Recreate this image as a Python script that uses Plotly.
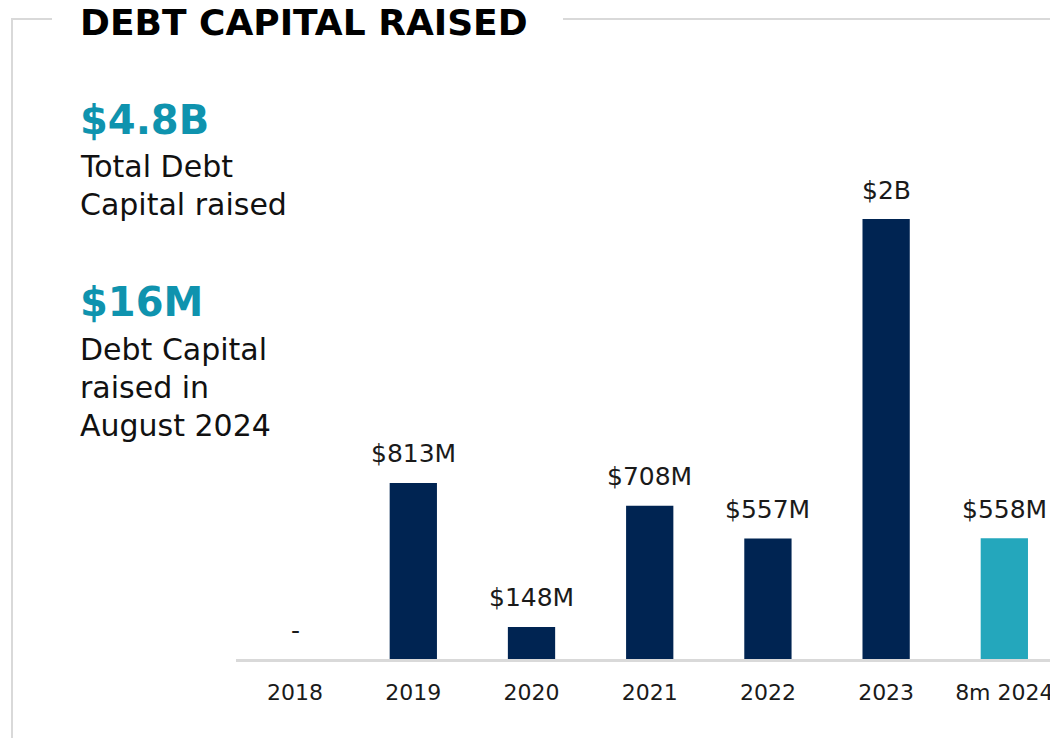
import plotly.graph_objects as go

years = ["2018", "2019", "2020", "2021", "2022", "2023", "8m 2024"]
values_m = [0, 813, 148, 708, 557, 2032, 558]
labels = ["-", "$813M", "$148M", "$708M", "$557M", "$2B", "$558M"]
bar_colors = ["#002452", "#002452", "#002452", "#002452", "#002452", "#002452", "#24a7bc"]

title_text = "DEBT CAPITAL RAISED"
kpi1_value = "$4.8B"
kpi1_lines = ["Total Debt", "Capital raised"]
kpi2_value = "$16M"
kpi2_lines = ["Debt Capital", "raised in", "August 2024"]

OFF = 8  # page body margin
W, H = 1058 - OFF, 738 - OFF
L, R, T, B = 236 - OFF, 0, 139 - OFF, 79
PW, PH = W - L - R, H - T - B

def px(x):
    return (x - OFF - L) / PW

def py(y):
    return (H - B - (y - OFF)) / PH

FONT = "DejaVu Sans"
TEAL_TXT = "#0f93ae"
GRAY = "#d9d9d9"

fig = go.Figure()
fig.add_trace(go.Bar(
    x=years, y=values_m, marker=dict(color=bar_colors, line=dict(width=0)),
    hoverinfo="skip", showlegend=False,
))

ann = []
for i, (yv, t) in enumerate(zip(values_m, labels)):
    ann.append(dict(x=i, y=yv, xref="x", yref="y", text=t, showarrow=False,
                    yanchor="middle", yshift=29,
                    font=dict(family=FONT, size=25, color="#1a1a1a")))

ann.append(dict(x=px(78), y=py(23), xref="paper", yref="paper", text="<b>" + title_text + "</b>",
                showarrow=False, xanchor="left", yanchor="middle",
                font=dict(family=FONT, size=36, color="#000000")))
ann.append(dict(x=px(78), y=py(120), xref="paper", yref="paper", text="<b>" + kpi1_value + "</b>",
                showarrow=False, xanchor="left", yanchor="middle",
                font=dict(family=FONT, size=40, color=TEAL_TXT)))
for i, line in enumerate(kpi1_lines):
    ann.append(dict(x=px(78), y=py(166 + 38 * i), xref="paper", yref="paper", text=line,
                    showarrow=False, xanchor="left", yanchor="middle",
                    font=dict(family=FONT, size=30, color="#111111")))
ann.append(dict(x=px(78), y=py(302), xref="paper", yref="paper", text="<b>" + kpi2_value + "</b>",
                showarrow=False, xanchor="left", yanchor="middle",
                font=dict(family=FONT, size=40, color=TEAL_TXT)))
for i, line in enumerate(kpi2_lines):
    ann.append(dict(x=px(78), y=py(349 + 38 * i), xref="paper", yref="paper", text=line,
                    showarrow=False, xanchor="left", yanchor="middle",
                    font=dict(family=FONT, size=30, color="#111111")))

shapes = [
    dict(type="line", xref="paper", yref="paper", x0=px(12), x1=px(12), y0=py(19), y1=py(740),
         line=dict(color=GRAY, width=2)),
    dict(type="line", xref="paper", yref="paper", x0=px(11), x1=px(52), y0=py(19), y1=py(19),
         line=dict(color=GRAY, width=2)),
    dict(type="line", xref="paper", yref="paper", x0=px(563), x1=px(1060), y0=py(19), y1=py(19),
         line=dict(color=GRAY, width=2)),
]

fig.update_layout(
    width=W, height=H,
    margin=dict(l=L, r=R, t=T, b=B, pad=0),
    paper_bgcolor="white", plot_bgcolor="white",
    bargap=0.6,
    annotations=ann, shapes=shapes,
    xaxis=dict(type="category", range=[-0.5, 6.454], showgrid=False, zeroline=False,
               showline=True, linecolor=GRAY, linewidth=3,
               ticks="", ticklabelstandoff=12,
               tickfont=dict(family=FONT, size=22, color="#1a1a1a")),
    yaxis=dict(range=[0, PH / 0.2165], visible=False, showgrid=False, zeroline=False),
)

fig.write_html("out.html")
